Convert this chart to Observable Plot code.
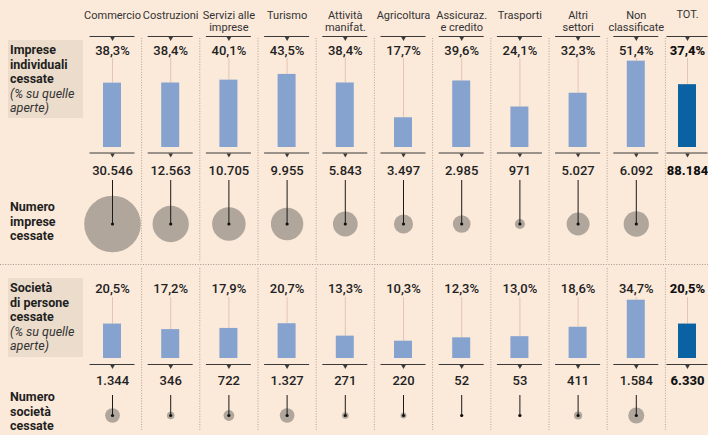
<!DOCTYPE html>
<html><head><meta charset="utf-8">
<script src="https://cdn.jsdelivr.net/npm/d3@7"></script>
<script src="https://cdn.jsdelivr.net/npm/@observablehq/plot@0.6"></script>
<style>
body{margin:0;background:#fbe9da;}
#chart{position:relative;width:708px;height:435px;overflow:hidden;background:#fbe9da;font-family:Roboto,sans-serif;}
.box{position:absolute;left:8px;width:75px;background:#ecdccb;}
.lab{position:absolute;left:10px;font-size:12.5px;line-height:14.5px;color:#1f1f1f;white-space:nowrap;}
.lab b{font-weight:700;}
.lab i{font-weight:400;font-style:italic;color:#333;}
.plot{position:absolute;left:0;}
</style></head><body>
<div id="chart">
  <div class="box" style="top:40px;height:78px"></div>
  <div class="box" style="top:278px;height:79px"></div>
  <div class="lab" style="top:43px"><b>Imprese<br>individuali<br>cessate</b><br><i>(% su quelle<br>aperte)</i></div>
  <div class="lab" style="top:200px"><b>Numero<br>imprese<br>cessate</b></div>
  <div class="lab" style="top:281px"><b>Società<br>di persone<br>cessate</b><br><i>(% su quelle<br>aperte)</i></div>
  <div class="lab" style="top:390px"><b>Numero<br>società<br>cessate</b></div>
  <div id="p1" class="plot" style="top:0px"></div>
  <div id="p2" class="plot" style="top:262px"></div>
</div>
<script>
// ---- data ----
const categories = ["Commercio","Costruzioni","Servizi alle imprese","Turismo","Attività manifat.","Agricoltura","Assicuraz. e credito","Trasporti","Altri settori","Non classificate"];
const totalLabel = "TOT.";
const headerLabels = ["Commercio","Costruzioni","Servizi alle\nimprese","Turismo","Attività\nmanifat.","Agricoltura","Assicuraz.\ne credito","Trasporti","Altri\nsettori","Non\nclassificate","TOT."];
const impresePct = [38.3,38.4,40.1,43.5,38.4,17.7,39.6,24.1,32.3,51.4];
const impresePctTot = 37.4;
const impreseNum = [30546,12563,10705,9955,5843,3497,2985,971,5027,6092];
const impreseNumTot = 88184;
const societaPct = [20.5,17.2,17.9,20.7,13.3,10.3,12.3,13.0,18.6,34.7];
const societaPctTot = 20.5;
const societaNum = [1344,346,722,1327,271,220,52,53,411,1584];
const societaNumTot = 6330;

// ---- formatting ----
const it = d3.formatLocale({decimal:",", thousands:".", grouping:[3], currency:["","€"]});
const fmtPct = v => it.format(".1f")(v) + "%";
const fmtNum = it.format(",d");

const cols = [...categories, totalLabel];
const xOpts = {type:"band", domain:cols, range:[82.9, 723.1], paddingInner:0.6907, paddingOuter:0.3454, round:false, axis:null};
const STEP = 58.2;
const TOTDX = -7;
const K = 1.68; // px per percentage point

const C = {
  text:"#222", header:"#333", tick:"#3a3a3a", sep:"#b3a396", stem:"#e3c5b4",
  bar:"#86a3cf", barTot:"#0b62a3", circle:"#b0a69c", dark:"#1a1a1a"
};

function section({pct, pctTot, num, numTot, height, base, rMax, rDomain, L, header}) {
  const Y = px => (base - px) / K;
  const rows = categories.map((c,i) => ({cat:c, pct:pct[i], num:num[i]}));
  const tot = [{cat:totalLabel, pct:pctTot, num:numTot}];
  const marks = [];
  // column separators
  marks.push(Plot.ruleX(cols.slice(0,-1), {x:d=>d, dx:STEP/2, y1:()=>Y(L.sepTop), y2:()=>Y(L.sepBot), stroke:C.sep, strokeDasharray:"1,1.6", strokeWidth:1}));
  if (L.divider != null) marks.push(Plot.ruleY([0], {y:()=>Y(L.divider), stroke:"#a8998c", strokeDasharray:"1,1.6"}));
  if (header) {
    marks.push(Plot.text(cols.slice(0,-1), {x:d=>d, y:()=>Y(L.header), text:(d,i)=>headerLabels[i], lineAnchor:"top", lineHeight:1.1, fontSize:11, fill:C.header}));
    marks.push(Plot.text([totalLabel], {x:d=>d, y:()=>Y(L.header), text:()=>headerLabels[10], lineAnchor:"top", fontSize:11, fill:C.header, dx:TOTDX}));
  }
  // ticks with small triangles
  for (const ty of L.ticks) {
    marks.push(Plot.tickY(categories, {x:d=>d, y:()=>Y(ty), insetLeft:-13.5, insetRight:-13.5, stroke:C.tick, strokeWidth:1}));
    marks.push(Plot.tickY([totalLabel], {x:d=>d, y:()=>Y(ty), insetLeft:-11.5, insetRight:-11.5, stroke:C.tick, strokeWidth:1, dx:TOTDX}));
    marks.push(Plot.dot(categories, {x:d=>d, y:()=>Y(ty+1.8), symbol:"triangle", rotate:180, r:1.7, fill:C.tick, stroke:null}));
    marks.push(Plot.dot([totalLabel], {x:d=>d, y:()=>Y(ty+1.8), symbol:"triangle", rotate:180, r:1.7, fill:C.tick, stroke:null, dx:TOTDX}));
  }
  // percentage stems, bars, labels
  marks.push(Plot.ruleX(rows, {x:"cat", y1:()=>Y(L.stemTop), y2:"pct", stroke:C.stem}));
  marks.push(Plot.ruleX(tot, {x:"cat", y1:()=>Y(L.stemTop), y2:"pct", stroke:C.stem, dx:TOTDX}));
  marks.push(Plot.barY(rows, {x:"cat", y:"pct", fill:C.bar}));
  marks.push(Plot.barY(tot, {x:"cat", y:"pct", fill:C.barTot, dx:TOTDX}));
  marks.push(Plot.text(rows, {x:"cat", y:()=>Y(L.pctY), text:d=>fmtPct(d.pct), fontSize:13, fontWeight:500, fill:C.text}));
  marks.push(Plot.text(tot, {x:"cat", y:()=>Y(L.pctY), text:d=>fmtPct(d.pct), fontSize:13, fontWeight:800, fill:"#111", dx:TOTDX}));
  // counts
  marks.push(Plot.text(rows, {x:"cat", y:()=>Y(L.numY), text:d=>fmtNum(d.num), fontSize:13, fontWeight:500, fill:C.text}));
  marks.push(Plot.text(tot, {x:"cat", y:()=>Y(L.numY), text:d=>fmtNum(d.num), fontSize:13, fontWeight:800, fill:"#111", dx:TOTDX}));
  marks.push(Plot.dot(rows, {x:"cat", y:()=>Y(L.circleY), r:"num", fill:C.circle, stroke:null}));
  marks.push(Plot.ruleX(rows, {x:"cat", y1:()=>Y(L.numStemTop), y2:()=>Y(L.circleY), stroke:C.dark, strokeWidth:1}));
  marks.push(Plot.dot(rows, {x:"cat", y:()=>Y(L.circleY), r:1.6, fill:"#111", stroke:null}));
  return Plot.plot({
    width:708, height, margin:0,
    x:xOpts,
    y:{domain:[0,100], range:[base, base-100*K], axis:null},
    r:{domain:[0,rDomain], range:[0,rMax]},
    style:{background:"transparent", fontFamily:"Roboto, sans-serif", overflow:"visible"},
    marks
  });
}

document.getElementById("p1").appendChild(section({
  pct:impresePct, pctTot:impresePctTot, num:impreseNum, numTot:impreseNumTot,
  height:262, base:147, rMax:28.3, rDomain:30546, header:true,
  L:{header:10, ticks:[36, 152.5], sepTop:38, sepBot:262, pctY:50, stemTop:58, numY:170, numStemTop:180, circleY:223.5}
}));
document.getElementById("p2").appendChild(section({
  pct:societaPct, pctTot:societaPctTot, num:societaNum, numTot:societaNumTot,
  height:173, base:96, rMax:8, rDomain:1584, header:false,
  L:{divider:2, ticks:[102], sepTop:6, sepBot:168, pctY:26, stemTop:35, numY:118, numStemTop:133, circleY:153}
}));
</script>
</body></html>
